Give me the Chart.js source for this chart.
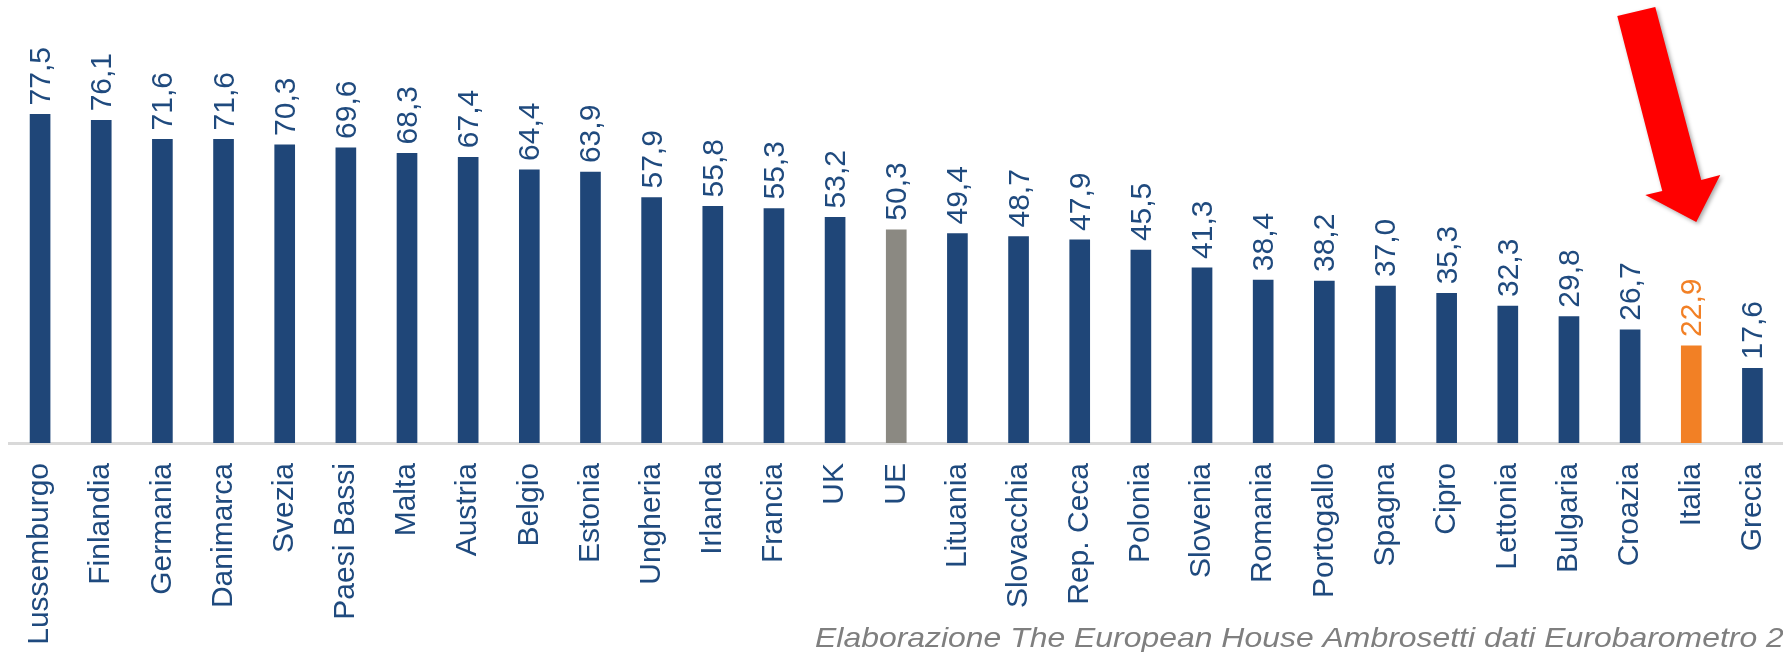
<!DOCTYPE html>
<html>
<head>
<meta charset="utf-8">
<script src="https://cdn.jsdelivr.net/npm/chart.js@4/dist/chart.umd.min.js"></script>
<style>
  html, body { margin: 0; padding: 0; background: #ffffff; }
  #wrap { width: 1783px; height: 652px; position: relative; overflow: hidden; }
  canvas { display: block; }
</style>
</head>
<body>
<div id="wrap"><canvas id="c" width="1783" height="652"></canvas></div>
<script>
// ---- data ----
const categories = ["Lussemburgo","Finlandia","Germania","Danimarca","Svezia","Paesi Bassi","Malta","Austria","Belgio","Estonia","Ungheria","Irlanda","Francia","UK","UE","Lituania","Slovacchia","Rep. Ceca","Polonia","Slovenia","Romania","Portogallo","Spagna","Cipro","Lettonia","Bulgaria","Croazia","Italia","Grecia"];
const values = [77.5,76.1,71.6,71.6,70.3,69.6,68.3,67.4,64.4,63.9,57.9,55.8,55.3,53.2,50.3,49.4,48.7,47.9,45.5,41.3,38.4,38.2,37.0,35.3,32.3,29.8,26.7,22.9,17.6];
const averageCategory = "UE";
const highlightCategory = "Italia";
const sourceNote = "Elaborazione The European House Ambrosetti dati Eurobarometro 2019";

// ---- styles ----
const NAVY = "#1F4678";
const GREY = "#8B8982";
const ORANGE = "#F28025";
const TEXT_BLUE = "#1F4A7E";
const FONT = "'Liberation Sans', Arial, sans-serif";

const barColors = categories.map(c => c === averageCategory ? GREY : (c === highlightCategory ? ORANGE : NAVY));
const labelColors = categories.map(c => c === highlightCategory ? ORANGE : TEXT_BLUE);
const fmt = v => v.toFixed(1).replace(".", ",");

const valueLabels = {
  id: "valueLabels",
  afterDatasetsDraw(chart) {
    const ctx = chart.ctx;
    const meta = chart.getDatasetMeta(0);
    ctx.save();
    ctx.font = "30px " + FONT;
    ctx.textAlign = "left";
    ctx.textBaseline = "alphabetic";
    meta.data.forEach((bar, i) => {
      ctx.save();
      ctx.translate(bar.x, bar.y - 9);
      ctx.rotate(-Math.PI / 2);
      ctx.fillStyle = labelColors[i];
      ctx.fillText(fmt(values[i]), 0, 10);
      ctx.restore();
    });
    ctx.restore();
  }
};

const annotations = {
  id: "annotations",
  afterDraw(chart) {
    const ctx = chart.ctx;
    const xs = chart.scales.x;
    const xi = xs.getPixelForValue(categories.indexOf(highlightCategory));
    const t = chart.chartArea.top;
    const pts = [[-74,-3],[-36,-12],[10,161],[29,156],[5,203],[-46,176],[-29,172]];
    ctx.save();
    ctx.shadowColor = "rgba(0,0,0,0.35)";
    ctx.shadowBlur = 4;
    ctx.shadowOffsetX = 2;
    ctx.shadowOffsetY = 2;
    ctx.fillStyle = "#FF0000";
    ctx.beginPath();
    pts.forEach((p, k) => {
      const px = xi + p[0], py = t + p[1];
      if (k === 0) ctx.moveTo(px, py); else ctx.lineTo(px, py);
    });
    ctx.closePath();
    ctx.fill();
    ctx.restore();

    ctx.save();
    ctx.font = "italic 28px " + FONT;
    ctx.fillStyle = "#7F7F7F";
    ctx.textAlign = "left";
    ctx.textBaseline = "alphabetic";
    ctx.translate(815, 647);
    ctx.scale(1.14, 1);
    ctx.fillText(sourceNote, 0, 0);
    ctx.restore();
  }
};

new Chart(document.getElementById("c"), {
  type: "bar",
  data: {
    labels: categories,
    datasets: [{
      data: values,
      backgroundColor: barColors,
      borderWidth: 0,
      barThickness: 20
    }]
  },
  options: {
    responsive: false,
    animation: false,
    devicePixelRatio: 1,
    layout: { padding: { left: 9.5, top: 19, right: 0, bottom: 0 } },
    plugins: { legend: { display: false }, tooltip: { enabled: false } },
    scales: {
      x: {
        grid: { display: false, drawTicks: false },
        border: { display: true, color: "#D9D9D9", width: 3 },
        ticks: {
          autoSkip: false,
          minRotation: 90,
          maxRotation: 90,
          padding: 20,
          color: TEXT_BLUE,
          font: { family: FONT, size: 30 }
        },
        afterFit(s) { s.height = 209; s.paddingLeft = 0; s.paddingRight = 0; }
      },
      y: {
        display: false,
        min: 0,
        max: 100
      }
    }
  },
  plugins: [valueLabels, annotations]
});
</script>
</body>
</html>
